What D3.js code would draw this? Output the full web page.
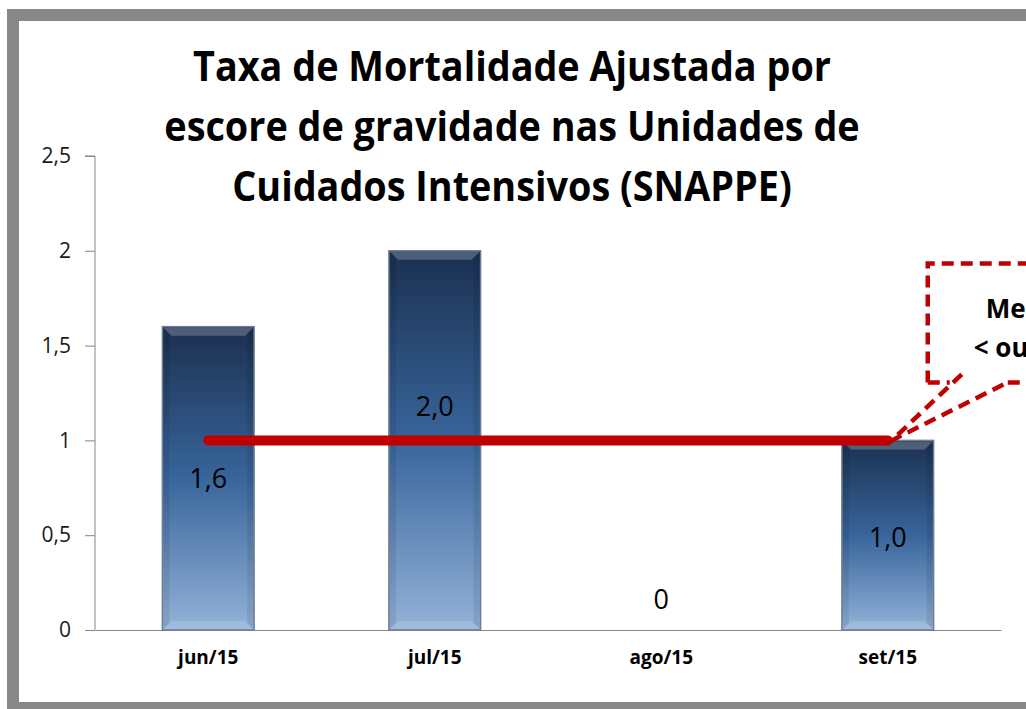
<!DOCTYPE html>
<html>
<head>
<meta charset="utf-8">
<script src="https://cdn.jsdelivr.net/npm/d3@7"></script>
<style>
  body { margin: 0; background: #fff; overflow: hidden; }
  svg { display: block; }
</style>
</head>
<body>
<div id="chart"></div>
<script>
var svgWidth = 1026;
var svgHeight = 709;

// data
var months = ["jun/15", "jul/15", "ago/15", "set/15"];
var taxa = [1.6, 2.0, 0, 1.0];
var taxaLabels = ["1,6", "2,0", "0", "1,0"];
var labelAt = [0.8, 1.18, 0.16, 0.49];   // where each value label sits (in axis units)
var meta = [1, 1, 1, 1];
var yTicks = [0, 0.5, 1, 1.5, 2, 2.5];
var titleLines = ["Taxa de Mortalidade Ajustada por",
                  "escore de gravidade nas Unidades de",
                  "Cuidados Intensivos (SNAPPE)"];
var calloutLines = ["Meta", "< ou = 1"];

var margin = { top: 156, right: 25, bottom: 79, left: 95 };
var width = svgWidth - margin.left - margin.right;
var height = svgHeight - margin.top - margin.bottom;

var svg = d3.select("#chart")
  .append("svg")
  .attr("width", svgWidth)
  .attr("height", svgHeight);

var defs = svg.append("defs");
var grad = defs.append("linearGradient")
  .attr("id", "barGrad")
  .attr("x1", 0).attr("y1", 0).attr("x2", 0).attr("y2", 1);
grad.append("stop").attr("offset", "0%").attr("stop-color", "#1b3050");
grad.append("stop").attr("offset", "50%").attr("stop-color", "#38659b");
grad.append("stop").attr("offset", "100%").attr("stop-color", "#93b2d8");

// outer frame
svg.append("path")
  .attr("d", "M13,709 L13,15 L1040,15")
  .attr("fill", "none")
  .attr("stroke", "#878787")
  .attr("stroke-width", 12);
svg.append("line")
  .attr("x1", 7).attr("x2", 1026)
  .attr("y1", 706).attr("y2", 706)
  .attr("stroke", "#878787")
  .attr("stroke-width", 8);

// title (narrowed a little, the original font is condensed)
svg.append("text")
  .attr("transform", "translate(512,0) scale(0.9,1)")
  .attr("text-anchor", "middle")
  .attr("font-family", "'Open Sans', sans-serif")
  .attr("font-weight", "bold")
  .attr("font-size", 42)
  .attr("fill", "#000")
  .selectAll("tspan")
  .data(titleLines)
  .enter()
  .append("tspan")
  .attr("x", 0)
  .attr("y", (d, i) => 81 + i * 60)
  .text(d => d);

var chartGroup = svg.append("g")
  .attr("transform", `translate(${margin.left}, ${margin.top})`);

var xScale = d3.scaleBand()
  .domain(months)
  .range([0, width])
  .paddingInner(0.595)
  .paddingOuter(0.2975);

var yScale = d3.scaleLinear()
  .domain([0, 2.5])
  .range([height, 0]);

// y axis
var yAxis = d3.axisLeft(yScale)
  .tickValues(yTicks)
  .tickSize(10)
  .tickPadding(14)
  .tickFormat(d => d3.format("")(d).replace(".", ","));

var yG = chartGroup.append("g").call(yAxis);
yG.select(".domain").attr("stroke", "#868686").attr("d", `M-10,0H0V${height}`);
yG.selectAll(".tick line").attr("stroke", "#868686");
yG.selectAll(".tick text")
  .attr("font-family", "'Open Sans', sans-serif")
  .attr("font-size", 21)
  .attr("fill", "#1a1a1a");

// x axis
var xAxis = d3.axisBottom(xScale).tickSize(0).tickPadding(21);
var xG = chartGroup.append("g")
  .attr("transform", `translate(0, ${height})`)
  .call(xAxis);
xG.select(".domain").attr("stroke", "#868686");
xG.selectAll(".tick text")
  .attr("font-family", "'Open Sans', sans-serif")
  .attr("font-weight", "bold")
  .attr("font-size", 19)
  .attr("fill", "#000");

// bars
var bars = chartGroup.selectAll(".bar")
  .data(months.map((m, i) => ({ m: m, v: taxa[i] })).filter(d => d.v > 0))
  .enter()
  .append("g")
  .attr("class", "bar");

bars.append("rect")
  .attr("x", d => xScale(d.m))
  .attr("y", d => yScale(d.v))
  .attr("width", xScale.bandwidth())
  .attr("height", d => yScale(0) - yScale(d.v))
  .attr("fill", "url(#barGrad)")
  .attr("stroke", "#6f7e92")
  .attr("stroke-width", 1.5);

// bevel: top light edge, bottom light edge, darker sides
bars.append("path")
  .attr("d", d => {
    var x0 = xScale(d.m), x1 = x0 + xScale.bandwidth(), y0 = yScale(d.v);
    return `M${x0 + 1},${y0 + 1}H${x1 - 1}L${x1 - 9},${y0 + 9}H${x0 + 9}Z`;
  })
  .attr("fill", "#ffffff")
  .attr("opacity", 0.22);
bars.append("path")
  .attr("d", d => {
    var x0 = xScale(d.m), x1 = x0 + xScale.bandwidth(), y1 = yScale(0);
    return `M${x0 + 1},${y1 - 1}H${x1 - 1}L${x1 - 9},${y1 - 9}H${x0 + 9}Z`;
  })
  .attr("fill", "#ffffff")
  .attr("opacity", 0.15);
bars.append("path")
  .attr("d", d => {
    var x0 = xScale(d.m), y0 = yScale(d.v), y1 = yScale(0);
    return `M${x0 + 1},${y0 + 1}L${x0 + 7},${y0 + 7}V${y1 - 7}L${x0 + 1},${y1 - 1}Z`;
  })
  .attr("fill", "#000")
  .attr("opacity", 0.08);
bars.append("path")
  .attr("d", d => {
    var x1 = xScale(d.m) + xScale.bandwidth(), y0 = yScale(d.v), y1 = yScale(0);
    return `M${x1 - 1},${y0 + 1}L${x1 - 7},${y0 + 7}V${y1 - 7}L${x1 - 1},${y1 - 1}Z`;
  })
  .attr("fill", "#000")
  .attr("opacity", 0.08);

// meta line
var line = d3.line()
  .x((d, i) => xScale(months[i]) + xScale.bandwidth() / 2)
  .y(d => yScale(d));

chartGroup.append("path")
  .datum(meta)
  .attr("d", line)
  .attr("fill", "none")
  .attr("stroke", "#c00000")
  .attr("stroke-width", 10)
  .attr("stroke-linecap", "round");

// value labels
chartGroup.selectAll(".vlabel")
  .data(taxaLabels)
  .enter()
  .append("text")
  .attr("class", "vlabel")
  .attr("x", (d, i) => xScale(months[i]) + xScale.bandwidth() / 2)
  .attr("y", (d, i) => yScale(labelAt[i]))
  .attr("dy", "0.36em")
  .attr("text-anchor", "middle")
  .attr("font-family", "'Open Sans', sans-serif")
  .attr("font-size", 27)
  .attr("fill", "#000")
  .text(d => d);

// callout pointing at the end of the meta line
var tipX = xScale(months[3]) + xScale.bandwidth() / 2 + 4;
var tipY = yScale(meta[3]);
var callout = svg.append("g")
  .attr("transform", `translate(${margin.left}, ${margin.top})`);
var boxX = tipX + 36, boxY = tipY - 177, boxB = tipY - 58;

function dashed(d) {
  callout.append("path")
    .attr("d", d)
    .attr("fill", "none")
    .attr("stroke", "#c00000")
    .attr("stroke-width", 4.5)
    .attr("stroke-dasharray", "12,7");
}
dashed(`M${boxX},${boxB}V${boxY}H${boxX + 200}`);
dashed(`M${boxX},${boxB}H${boxX + 22}`);
dashed(`M${boxX + 80},${boxB}H${boxX + 200}`);
dashed(`M${boxX + 34},${boxB - 8}L${tipX},${tipY}L${boxX + 80},${boxB}`);

callout.append("text")
  .attr("font-family", "'Open Sans', sans-serif")
  .attr("font-weight", "bold")
  .attr("font-size", 26)
  .attr("fill", "#000")
  .selectAll("tspan")
  .data(calloutLines)
  .enter()
  .append("tspan")
  .attr("x", (d, i) => boxX + (i === 0 ? 58 : 46))
  .attr("y", (d, i) => boxY + 55 + i * 39)
  .text(d => d);
</script>
</body>
</html>
